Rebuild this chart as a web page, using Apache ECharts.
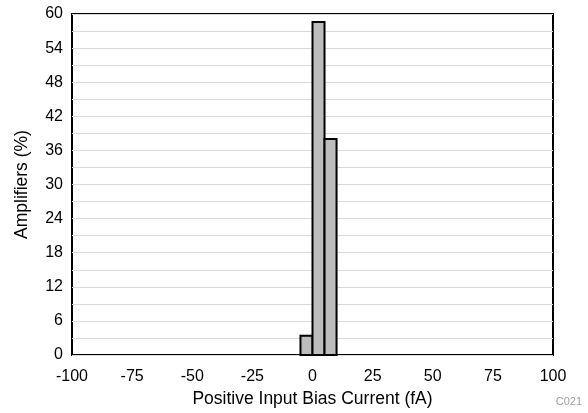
<!DOCTYPE html>
<html><head><meta charset="utf-8">
<script src="https://cdn.jsdelivr.net/npm/echarts@6/dist/echarts.min.js"></script>
<style>html,body{margin:0;padding:0;background:#fff}#c{width:588px;height:413px}</style>
</head><body><div id="c"></div>
<script>
const binStarts = [-5, 0, 5];
const binEnds = [0, 5, 10];
const percents = [3.4, 58.6, 38.0];
const xTicks = [-100, -75, -50, -25, 0, 25, 50, 75, 100];
const yTicks = [0, 6, 12, 18, 24, 30, 36, 42, 48, 54, 60];

const font = 'Liberation Sans, Arial, sans-serif';
const data = binStarts.map((s, i) => [s, binEnds[i], percents[i]]);
const chart = echarts.init(document.getElementById('c'), null, {renderer: 'canvas'});
chart.setOption({
  animation: false,
  grid: {left: 72, right: 35, top: 14, bottom: 58, show: true, borderColor: '#000', borderWidth: 2, backgroundColor: 'transparent'},
  xAxis: {
    type: 'value', min: xTicks[0], max: xTicks[xTicks.length - 1], interval: 25,
    axisLine: {show: false}, axisTick: {show: false}, splitLine: {show: false},
    axisLabel: {color: '#000', fontSize: 16, fontFamily: font, margin: 14},
    name: 'Positive Input Bias Current (fA)', nameLocation: 'middle', nameGap: 30,
    nameTextStyle: {color: '#000', fontSize: 17.5, fontFamily: font}
  },
  yAxis: {
    type: 'value', min: yTicks[0], max: yTicks[yTicks.length - 1], interval: 6,
    axisLine: {show: false}, axisTick: {show: false},
    splitLine: {show: true, lineStyle: {color: '#d9d9d9', width: 1}},
    minorTick: {show: false, splitNumber: 2},
    minorSplitLine: {show: true, lineStyle: {color: '#d9d9d9', width: 1}},
    axisLabel: {color: '#000', fontSize: 16, fontFamily: font, margin: 9},
    name: 'Amplifiers (%)', nameLocation: 'middle', nameGap: 41, nameRotate: 90,
    nameTextStyle: {color: '#000', fontSize: 17.5, fontFamily: font}
  },
  graphic: [{type: 'text', right: 6, bottom: 6, style: {text: 'C021', fill: '#a0a0a0', fontSize: 11, fontFamily: font}}],
  series: [{
    type: 'custom',
    data: data,
    encode: {x: [0, 1], y: 2},
    renderItem: function (params, api) {
      const p0 = api.coord([api.value(0), 0]);
      const p1 = api.coord([api.value(1), api.value(2)]);
      return {
        type: 'rect',
        shape: {x: p0[0], y: p1[1], width: p1[0] - p0[0], height: p0[1] - p1[1]},
        style: {fill: '#bdbdbd', stroke: '#000', lineWidth: 2}
      };
    }
  }]
});
</script></body></html>
